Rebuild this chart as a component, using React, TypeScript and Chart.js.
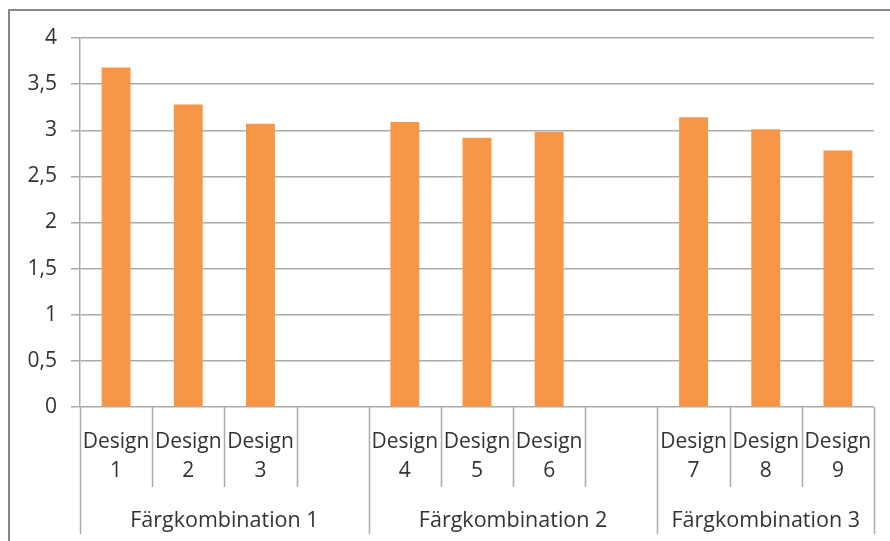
import React, { useEffect, useRef } from "react";
import { Chart, registerables } from "chart.js";

Chart.register(...registerables);

// Designs in display order; empty strings are the spacer slots between colour groups
const designs = [
  "Design 1", "Design 2", "Design 3", "",
  "Design 4", "Design 5", "Design 6", "",
  "Design 7", "Design 8", "Design 9",
];
const scores: (number | null)[] = [
  3.68, 3.28, 3.07, null,
  3.09, 2.92, 2.98, null,
  3.14, 3.01, 2.78,
];
const groups = ["Färgkombination 1", "Färgkombination 2", "Färgkombination 3"];
const groupSizes = [4, 4, 3];
const yTicks = [0, 0.5, 1, 1.5, 2, 2.5, 3, 3.5, 4];

const FONT = "'Open Sans', 'Noto Sans', sans-serif";
const TEXT = "#333333";
const GRID = "#ababab";
const BAR = "#F79646";

// Two-level category axis (designs above, colour combinations below) plus the outer frame
const groupedAxis = {
  id: "groupedAxis",
  afterDraw(chart: any) {
    const { ctx, chartArea } = chart;
    const x = chart.scales.x;
    const n = designs.length;
    const half = (x.getPixelForValue(1) - x.getPixelForValue(0)) / 2;
    const base = chartArea.bottom;
    const edge = (i: number) =>
      i < n ? x.getPixelForValue(i) - half : x.getPixelForValue(n - 1) + half;

    const starts = new Set<number>();
    let acc = 0;
    groupSizes.forEach((s) => {
      starts.add(acc);
      acc += s;
    });
    starts.add(acc);

    ctx.save();
    ctx.strokeStyle = GRID;
    ctx.lineWidth = 1.5;
    for (let i = 0; i <= n; i++) {
      const px = Math.round(edge(i)) + 0.5;
      const long = starts.has(i);
      ctx.beginPath();
      ctx.moveTo(px, base);
      ctx.lineTo(px, base + (long ? 127 : 80));
      ctx.stroke();
    }

    ctx.fillStyle = TEXT;
    ctx.font = `21px ${FONT}`;
    ctx.textAlign = "center";
    ctx.textBaseline = "alphabetic";
    designs.forEach((d, i) => {
      if (!d) return;
      const cx = x.getPixelForValue(i);
      const parts = d.split(" ");
      ctx.fillText(parts[0], cx, base + 41);
      ctx.fillText(parts.slice(1).join(" "), cx, base + 70);
    });

    ctx.font = `21.5px ${FONT}`;
    let start = 0;
    groups.forEach((g, gi) => {
      const end = start + groupSizes[gi];
      const cx = (edge(start) + edge(end)) / 2;
      ctx.fillText(g, cx, base + 120);
      start = end;
    });

    // outer frame (left and top edges)
    ctx.strokeStyle = "#878787";
    ctx.lineWidth = 2;
    ctx.beginPath();
    ctx.moveTo(9, chart.height + 2);
    ctx.lineTo(9, 10);
    ctx.lineTo(chart.width + 2, 10);
    ctx.stroke();
    ctx.restore();
  },
};

export default function App() {
  const ref = useRef<HTMLCanvasElement | null>(null);

  useEffect(() => {
    if (!ref.current) return;
    const chart = new Chart(ref.current, {
      type: "bar",
      data: {
        labels: designs,
        datasets: [
          {
            data: scores,
            backgroundColor: BAR,
            borderWidth: 0,
            categoryPercentage: 1,
            barPercentage: 0.4,
          },
        ],
      },
      options: {
        responsive: false,
        animation: false,
        devicePixelRatio: 1,
        layout: { padding: { top: 38, right: 16, bottom: 134, left: 0 } },
        plugins: {
          legend: { display: false },
          tooltip: { enabled: false },
        },
        scales: {
          x: {
            display: false,
            offset: true,
          },
          y: {
            min: yTicks[0],
            max: yTicks[yTicks.length - 1],
            afterFit(scale: any) {
              scale.width = 80;
            },
            afterBuildTicks(scale: any) {
              scale.ticks = yTicks.map((v) => ({ value: v }));
            },
            ticks: {
              padding: 14,
              color: TEXT,
              font: { family: FONT, size: 21 },
              callback: (v: any) => String(v).replace(".", ","),
            },
            grid: {
              color: GRID,
              lineWidth: 1.5,
              drawTicks: true,
              tickLength: 9,
            },
            border: { display: true, color: GRID, width: 1.5 },
          },
        },
      },
      plugins: [groupedAxis],
    });
    return () => chart.destroy();
  }, []);

  return (
    <div style={{ position: "fixed", left: 0, top: 0, width: 890, height: 541, background: "#fff" }}>
      <canvas ref={ref} width={890} height={541} style={{ display: "block" }} />
    </div>
  );
}
